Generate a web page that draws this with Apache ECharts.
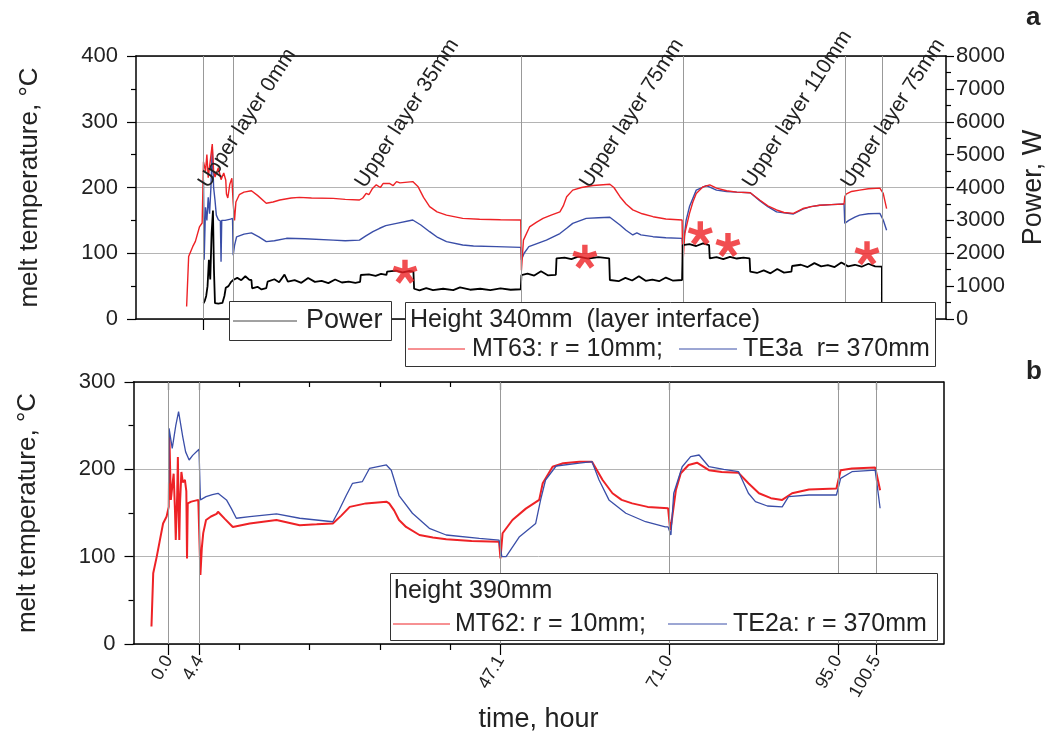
<!DOCTYPE html>
<html>
<head>
<meta charset="utf-8">
<script src="https://cdn.jsdelivr.net/npm/echarts@6/dist/echarts.min.js"></script>
<style>
  html, body { margin: 0; background: #fff; }
  #chart { width: 1047px; height: 741px; }
</style>
</head>
<body>
<div id="chart"></div>
<script>
// time markers (hours) shown as grey lines and bottom tick labels
const markerTimes = [0.0, 4.4, 47.1, 71.0, 95.0, 100.5];
const minorTimes = [10, 20, 30, 40];

// panel a: height 340mm, [hour, degC]
const mt63 = [
  [-2.5, 19], [-2.2, 95], [-1.6, 110], [-1.2, 118], [-0.6, 140], [-0.2, 146], [0.0, 239], [0.3, 225],
  [0.5, 250], [0.7, 215], [1.0, 240], [1.3, 266], [1.5, 225], [1.7, 216], [2.2, 230], [2.6, 212],
  [3.0, 222], [3.3, 211], [3.4, 190], [3.6, 184], [3.9, 205], [4.2, 214], [4.4, 176], [4.6, 150],
  [4.8, 178], [5.3, 189], [6.0, 193], [7.1, 195], [8.0, 188], [9.3, 176], [10.3, 178], [11.3, 181],
  [13, 184], [14.2, 185], [16, 184], [19.2, 183.5], [21, 182], [23.1, 181], [23.6, 184], [24.1, 191],
  [24.5, 189], [25.0, 198], [25.6, 204], [26.2, 200], [26.6, 206], [27.6, 206], [28.1, 203], [28.6, 209],
  [29.1, 207], [31, 209], [31.8, 201], [32.6, 185], [33.5, 171], [34.6, 163], [36, 158], [38.4, 153],
  [40.9, 151.6], [44, 151], [47.0, 150.6], [47.1, 74], [47.4, 120], [48.3, 140], [49.3, 147], [50.3, 153],
  [51.5, 158], [52.8, 163], [53.3, 172], [53.8, 186], [54.7, 196], [56, 200], [57.7, 203], [60.2, 205],
  [60.8, 200], [61.7, 186], [62.6, 175], [63.6, 166], [65, 160], [66.6, 155.6], [68.5, 152], [70.9, 150.6],
  [71.0, 79], [71.3, 130], [72, 160.7], [72.5, 178], [73, 191], [74, 201], [75, 204], [76, 199],
  [77.5, 195], [79, 193], [81, 192], [82.4, 181], [83.6, 172], [84.9, 165.8], [86, 162], [87.4, 160.7],
  [88.8, 168], [90, 171], [91.3, 173], [93, 174], [94.9, 175], [95.0, 186], [95.2, 190], [96, 194],
  [97.2, 196], [98.5, 198], [100.2, 199], [100.7, 191], [101.2, 168]
];
const te3a = [
  [0.0, 211], [0.1, 90], [0.3, 170], [0.5, 150], [0.7, 185], [0.9, 160], [1.1, 200], [1.3, 262],
  [1.5, 200], [1.7, 181], [1.9, 158], [2.2, 151], [2.5, 149], [2.6, 87], [2.7, 150], [3.2, 150],
  [4.0, 152], [4.3, 153], [4.4, 97], [4.6, 112], [4.9, 125], [6, 129], [7.1, 131], [8.2, 125],
  [9.3, 117.6], [10.5, 119], [12.3, 122.7], [15, 122], [19.2, 120], [21, 119], [23.1, 120], [24, 126],
  [25.1, 132.8], [26.1, 138], [27, 142], [28.6, 145.5], [31, 150.6], [32.2, 143], [33.5, 132.8], [34.7, 124],
  [36, 117.6], [38.4, 112.5], [40, 111], [43.4, 110], [47.0, 109], [47.1, 89.7], [47.5, 100], [48.2, 110],
  [50.8, 120], [52.8, 130], [53.8, 138], [54.7, 145.5], [56.7, 153], [58.5, 154], [60.2, 154.7], [61.7, 143],
  [62.6, 135], [63.6, 127.8], [64.2, 131], [64.8, 128], [66.6, 125.2], [68.5, 123.5], [70.9, 122.7], [71.0, 105],
  [71.5, 150], [72, 171], [73, 196], [74.5, 203], [76, 196], [77.5, 194], [79, 193], [81, 192],
  [82.4, 180], [83.6, 171], [84.9, 163], [87.4, 159.7], [88.8, 167], [90, 171], [91.3, 173], [93, 174],
  [94.9, 175], [95.0, 145.5], [95.6, 150], [96.5, 155], [97.2, 158], [98.5, 160], [100.2, 160.7], [100.7, 150.6],
  [101.2, 135]
];
// heater power, [hour, W]
const power = [
  [0.0, 480], [0.2, 560], [0.4, 700], [0.6, 1000], [0.8, 1800], [1.0, 1200], [1.2, 2600], [1.4, 3300],
  [1.55, 1500], [1.7, 480], [2.2, 470], [2.8, 490], [3.1, 700], [3.3, 950], [3.7, 1000], [4.1, 1130],
  [4.4, 1186], [5.0, 1250], [5.6, 1180], [6.2, 1300], [6.8, 1190], [7.1, 1186], [7.2, 934], [8.0, 980],
  [8.6, 900], [9.3, 940], [9.5, 1135], [10.5, 1210], [11.2, 1120], [12, 1350], [12.5, 1140], [13.5, 1180],
  [14.5, 1100], [15.5, 1250], [16.5, 1130], [17.5, 1160], [18.5, 1090], [19.5, 1200], [20.5, 1110], [21.5, 1140],
  [22.5, 1100], [23.2, 1130], [23.3, 1338], [24.5, 1360], [25.5, 1310], [26.3, 1370], [27.1, 1340], [27.2, 1440],
  [28.5, 1470], [29.5, 1420], [30.5, 1460], [31.1, 1440], [31.2, 920], [32, 870], [33, 940], [34, 880],
  [35.5, 920], [37, 880], [38, 960], [39.5, 890], [41, 920], [42.5, 880], [44, 930], [45.5, 890],
  [47.0, 905], [47.1, 1338], [48, 1380], [49, 1320], [50, 1450], [51, 1330], [52.2, 1345], [52.3, 1845],
  [53.5, 1870], [54.5, 1820], [55.5, 1900], [57, 1840], [58.5, 1880], [60.1, 1845], [60.2, 1186], [61.5, 1150],
  [62.5, 1250], [63.5, 1170], [64.5, 1300], [65.5, 1160], [66.5, 1200], [67.5, 1150], [68.5, 1260], [69.5, 1170],
  [70.9, 1186], [71.0, 2250], [72, 2280], [73, 2220], [74, 2300], [74.9, 2250], [75.0, 1845], [76, 1880],
  [77, 1820], [78, 1890], [79, 1840], [80, 1870], [80.9, 1845], [81.0, 1440], [82, 1400], [83, 1480],
  [84, 1390], [85, 1520], [86, 1410], [87.1, 1440], [87.2, 1612], [88.5, 1650], [89.5, 1580], [90.5, 1700],
  [91.5, 1600], [92.5, 1640], [93.5, 1580], [94.5, 1720], [95.5, 1600], [96.5, 1650], [97.5, 1590], [98.5, 1680],
  [99.5, 1600], [100.5, 1591], [100.5, 0]
];
// red asterisks on the power curve
const starTimes = [29.85, 56.5, 73.6, 77.7, 98.3];
const starPower = [1439, 1895, 2607, 2251, 1998];
// rotated notes
const layerNotes = ['Upper layer 0mm', 'Upper layer 35mm', 'Upper layer 75mm', 'Upper layer 110mm', 'Upper layer 75mm'];
const layerNoteTimes = [1.3, 24.5, 57.8, 81.9, 96.5];
const layerNoteTemp = 194;

// panel b: height 390mm, [hour, degC]
const mt62 = [
  [-2.45, 20], [-2.2, 81], [-1.7, 100], [-1.3, 117], [-0.8, 138], [-0.3, 146], [0.0, 157], [0.1, 237],
  [0.3, 165], [0.5, 180], [0.7, 195], [0.9, 150], [1.0, 119], [1.2, 170], [1.3, 214], [1.4, 160],
  [1.5, 119], [1.6, 160], [1.8, 197], [2.0, 185], [2.3, 188], [2.5, 175], [2.6, 98], [2.7, 161],
  [3.2, 163], [4.2, 165], [4.4, 167], [4.5, 79], [4.7, 110], [4.9, 127], [5.3, 142], [6.0, 146],
  [6.8, 149], [7.0, 151.5], [8.0, 143], [9.1, 134], [11.5, 138], [15.3, 142], [18.6, 136], [21, 137],
  [23.3, 138], [24.5, 147], [25.7, 157], [28, 161], [30.9, 163], [31.3, 161], [32.0, 153], [32.7, 142],
  [33.7, 134], [35.6, 124.8], [37.5, 122], [39.4, 120], [43, 118], [46.9, 117], [47.1, 98], [47.4, 126.8],
  [48.8, 142], [50.7, 155], [52.6, 165], [53.1, 184], [54.5, 203], [56, 207], [58.3, 208.8], [60.1, 208.8],
  [61.6, 187.8], [63, 172.6], [64.3, 165], [65.8, 161], [68, 157], [70.9, 155.4], [71.2, 130.5], [71.4, 140],
  [72, 176], [72.7, 195.5], [73.8, 205], [75, 207.6], [76.7, 199], [78.5, 197], [80.9, 196], [82.3, 184],
  [83.8, 172.6], [85.5, 167], [87.1, 165], [88.5, 172.6], [90.9, 177], [94.8, 178], [95.4, 199], [97, 201],
  [100.3, 202], [101, 176]
];
const te2a = [
  [0.0, 184], [0.05, 247], [0.5, 224], [1.0, 250], [1.4, 266], [2.0, 237], [2.4, 220], [2.9, 210.7],
  [3.4, 216], [4.3, 223], [4.4, 222], [4.5, 165], [5.3, 168.7], [6.2, 171], [7.0, 172.6], [8.2, 165],
  [8.9, 155], [9.6, 144], [11.5, 145.8], [15.3, 148.9], [18.6, 144], [23.3, 140], [24.2, 153.4], [25.2, 170],
  [26.1, 184], [27.5, 186], [28.5, 201], [30.9, 205], [31.6, 199], [32.7, 170], [34.6, 149.7], [37, 132.5],
  [39.4, 124.8], [44.1, 121], [46.9, 119], [47.3, 100], [47.9, 100], [49.8, 122.9], [52.1, 138], [52.8, 165],
  [53.5, 187.8], [55, 203.8], [58.3, 207], [60.1, 208.8], [61.1, 187.8], [62.5, 165], [64.9, 149.7], [67.7, 140],
  [70.5, 134], [70.9, 134], [71.3, 124.8], [71.7, 172.6], [72.9, 203], [74.1, 214.5], [75.3, 216.4], [76.7, 203],
  [78.8, 200], [80.9, 197.3], [82.3, 172.6], [83.3, 163], [85, 158], [87.1, 157], [88, 168.7], [90.9, 170.6],
  [94.8, 170.6], [95.4, 189.7], [97, 197.3], [100.3, 199], [101, 155.4]
];

const FONT = 'Liberation Sans, Arial, sans-serif';
const RED = '#ee2226';
const BLUE = '#3a4ea8';
const INK = '#222';
const GRID_GREY = '#b4b4b4';
const STAR = 'path://M-0.22,0.15L-0.22,-1L0.22,-1L0.22,0.15Z' +
  'M-0.211,-0.163L0.883,-0.518L1.019,-0.1L-0.075,0.256Z' +
  'M0.09,-0.251L0.766,0.68L0.41,0.938L-0.266,0.008Z' +
  'M0.266,0.008L-0.41,0.938L-0.766,0.68L-0.09,-0.251Z' +
  'M0.075,0.256L-1.019,-0.1L-0.883,-0.518L0.211,-0.163Z';

const axisLine = { show: true, onZero: false, lineStyle: { color: '#000', width: 1.5 } };
const noLine = { show: false, onZero: false };
const tickStyle = { color: '#000', width: 1.2 };
const markerLines = {
  silent: true,
  symbol: 'none',
  label: { show: false },
  lineStyle: { color: '#999', width: 1, type: 'solid' },
  data: markerTimes.map((t) => ({ xAxis: t })),
};

const chart = echarts.init(document.getElementById('chart'));

const tempAxis = (gridIndex, max) => ({
  gridIndex: gridIndex,
  type: 'value',
  min: 0,
  max: max,
  interval: 100,
  position: 'left',
  axisLine: axisLine,
  axisTick: { show: true, length: 9, lineStyle: tickStyle },
  minorTick: { show: true, splitNumber: 2, length: 5, lineStyle: tickStyle },
  splitLine: { show: true, lineStyle: { color: GRID_GREY, width: 1 } },
  axisLabel: { fontFamily: FONT, fontSize: 22, color: INK, margin: 18 },
  name: 'melt temperature, °C',
  nameLocation: 'middle',
  nameRotate: 90,
  nameGap: 93,
  nameTextStyle: { fontFamily: FONT, fontSize: 26, color: INK },
});

chart.setOption({
  animation: false,
  backgroundColor: '#fff',
  grid: [
    { left: 136, right: 101, top: 56, bottom: 422, outerBoundsMode: 'none', containLabel: false },
    { left: 133.5, right: 103.5, top: 382, bottom: 97, outerBoundsMode: 'none', containLabel: false },
  ],
  xAxis: [
    {
      gridIndex: 0, type: 'value', min: -10, max: 110, position: 'bottom',
      axisLine: axisLine,
      axisTick: { show: true, customValues: markerTimes, length: 11, lineStyle: tickStyle },
      axisLabel: { show: false }, splitLine: { show: false },
    },
    {
      gridIndex: 0, type: 'value', min: -10, max: 110, position: 'top',
      axisLine: axisLine, axisTick: { show: false }, axisLabel: { show: false }, splitLine: { show: false },
    },
    {
      gridIndex: 1, type: 'value', min: -5, max: 110, position: 'bottom',
      axisLine: axisLine,
      axisTick: { show: true, customValues: markerTimes, length: 11, lineStyle: tickStyle },
      axisLabel: {
        customValues: markerTimes, rotate: 60, margin: 13,
        fontFamily: FONT, fontSize: 18, color: INK,
        formatter: (v) => v.toFixed(1),
      },
      splitLine: { show: false },
      name: 'time, hour', nameLocation: 'middle', nameGap: 62,
      nameTextStyle: { fontFamily: FONT, fontSize: 27, color: INK },
    },
    {
      gridIndex: 1, type: 'value', min: -5, max: 110, position: 'bottom',
      axisLine: noLine,
      axisTick: { show: true, customValues: minorTimes, length: 6, lineStyle: tickStyle },
      axisLabel: { show: false }, splitLine: { show: false },
    },
    {
      gridIndex: 1, type: 'value', min: -5, max: 110, position: 'top',
      axisLine: axisLine,
      axisTick: { show: true, inside: true, customValues: markerTimes, length: 8, lineStyle: tickStyle },
      axisLabel: { show: false }, splitLine: { show: false },
    },
    {
      gridIndex: 1, type: 'value', min: -5, max: 110, position: 'top',
      axisLine: noLine,
      axisTick: { show: true, inside: true, customValues: minorTimes, length: 5, lineStyle: tickStyle },
      axisLabel: { show: false }, splitLine: { show: false },
    },
  ],
  yAxis: [
    tempAxis(0, 400),
    {
      gridIndex: 0, type: 'value', min: 0, max: 8000, interval: 1000, position: 'right',
      axisLine: axisLine,
      axisTick: { show: true, length: 8, lineStyle: tickStyle },
      minorTick: { show: true, splitNumber: 2, length: 5, lineStyle: tickStyle },
      splitLine: { show: false },
      axisLabel: { fontFamily: FONT, fontSize: 22, color: INK, margin: 10, formatter: (v) => String(v) },
      name: 'Power, W', nameLocation: 'middle', nameRotate: 90, nameGap: 74,
      nameTextStyle: { fontFamily: FONT, fontSize: 27, color: INK },
    },
    tempAxis(1, 300),
    {
      gridIndex: 1, type: 'value', min: 0, max: 300, position: 'right',
      axisLine: axisLine, axisTick: { show: false }, axisLabel: { show: false }, splitLine: { show: false },
    },
  ],
  series: [
    {
      name: 'TE3a', type: 'line', xAxisIndex: 0, yAxisIndex: 0, data: te3a,
      showSymbol: false, symbol: 'none', lineStyle: { color: BLUE, width: 1.4 }, z: 3,
      markLine: markerLines,
    },
    {
      name: 'MT63', type: 'line', xAxisIndex: 0, yAxisIndex: 0, data: mt63,
      showSymbol: false, symbol: 'none', lineStyle: { color: RED, width: 1.4 }, z: 3,
    },
    {
      name: 'Power', type: 'line', xAxisIndex: 0, yAxisIndex: 1, data: power,
      showSymbol: false, symbol: 'none', lineStyle: { color: '#000', width: 1.8 }, z: 4,
    },
    {
      name: 'marks', type: 'scatter', xAxisIndex: 0, yAxisIndex: 1,
      data: starTimes.map((t, i) => [t, starPower[i]]),
      symbol: STAR, symbolSize: [25, 24], itemStyle: { color: RED }, z: 6, silent: true,
    },
    {
      name: 'MT62', type: 'line', xAxisIndex: 2, yAxisIndex: 2, data: mt62,
      showSymbol: false, symbol: 'none', lineStyle: { color: RED, width: 2 }, z: 3,
      markLine: markerLines,
    },
    {
      name: 'TE2a', type: 'line', xAxisIndex: 2, yAxisIndex: 2, data: te2a,
      showSymbol: false, symbol: 'none', lineStyle: { color: BLUE, width: 1.3 }, z: 3,
    },
  ],
});

// legend boxes and notes
const txt = (x, y, s, size, weight) => ({
  type: 'text', x: x, y: y, z: 20,
  style: {
    text: s, fontFamily: FONT, fontSize: size, fontWeight: weight || 'normal',
    fill: INK, verticalAlign: 'middle', align: 'left',
  },
});
const box = (x, y, w, h) => ({
  type: 'rect', x: x, y: y, z: 19, shape: { width: w, height: h },
  style: { fill: '#fff', stroke: '#333', lineWidth: 1 },
});
const key = (x1, x2, y, color) => ({
  type: 'line', z: 20, shape: { x1: x1, y1: y, x2: x2, y2: y },
  style: { stroke: color, lineWidth: 1 },
});

const elements = [
  box(229.5, 301.5, 162, 39),
  key(233, 297, 321, '#444'),
  txt(306, 321, 'Power', 27),
  box(405.5, 302.5, 530, 64),
  txt(410, 320, 'Height 340mm  (layer interface)', 25),
  key(408, 465, 349, RED),
  txt(472, 349, 'MT63: r = 10mm;', 25),
  key(679, 737, 349, BLUE),
  txt(743, 349, 'TE3a  r= 370mm', 25),
  box(390.5, 573.5, 547, 67),
  txt(394, 591, 'height 390mm', 25),
  key(393, 450, 624, RED),
  txt(455, 624, 'MT62: r = 10mm;', 25),
  key(668, 727, 624, BLUE),
  txt(733, 624, 'TE2a: r = 370mm', 25),
  txt(1026, 18, 'a', 26, 'bold'),
  txt(1026, 372, 'b', 26, 'bold'),
];

layerNotes.forEach((s, i) => {
  const p = chart.convertToPixel({ xAxisIndex: 0, yAxisIndex: 0 }, [layerNoteTimes[i], layerNoteTemp]);
  elements.push({
    type: 'text', x: p[0], y: p[1], z: 8, rotation: 57 * Math.PI / 180,
    style: { text: s, fontFamily: FONT, fontSize: 21, fill: INK, align: 'left', verticalAlign: 'bottom' },
  });
});

chart.setOption({ graphic: { elements: elements } });
</script>
</body>
</html>
